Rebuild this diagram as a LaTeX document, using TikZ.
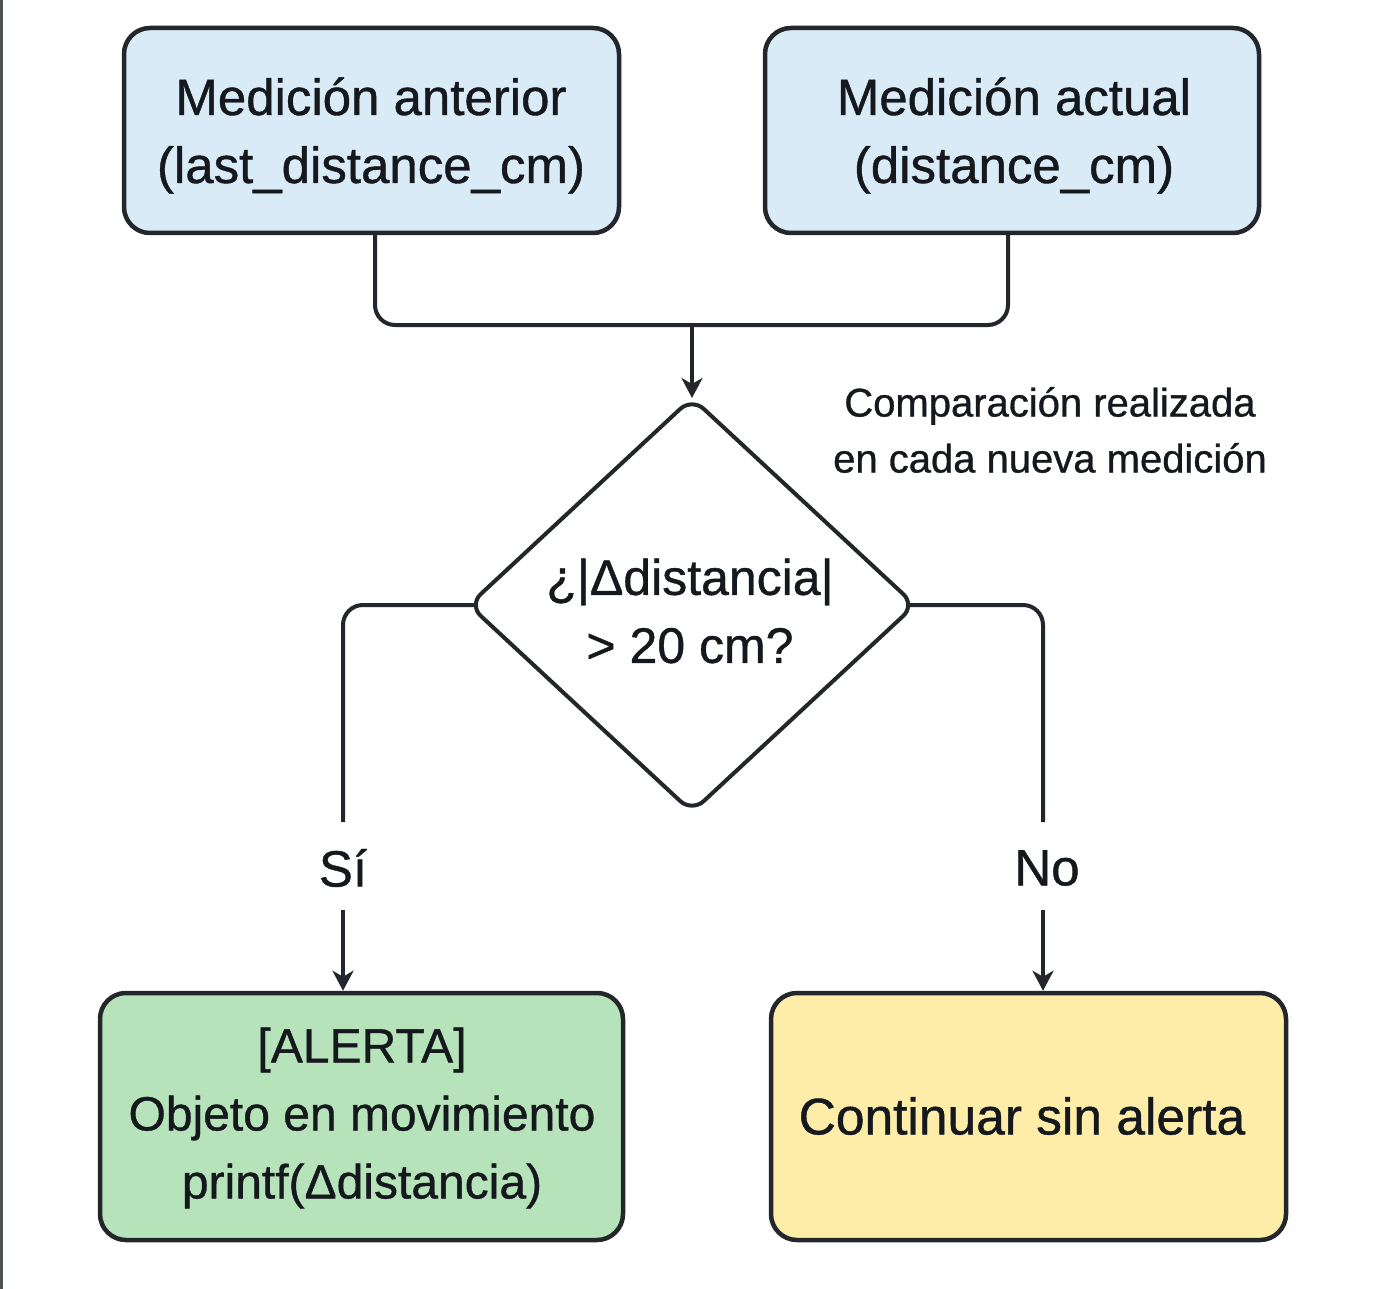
\documentclass[tikz,border=0pt]{standalone}
\usepackage{fontspec}
\setmainfont[FakeBold=0.8]{Liberation Sans}
\usetikzlibrary{arrows.meta,calc}
\definecolor{ink}{HTML}{23272B}
\definecolor{txt}{HTML}{15191D}
\definecolor{bluefill}{HTML}{DAEBF8}
\definecolor{greenfill}{HTML}{B6E3B9}
\definecolor{yellowfill}{HTML}{FDEDA8}
\begin{document}
\begin{tikzpicture}[x=1pt,y=-1pt,
  box/.style={draw=ink,line width=4.5pt,rounded corners=26pt,inner sep=0pt},
  boxtext/.style={inner sep=0pt,align=center,text=txt,font=\fontsize{#1}{68}\selectfont},
  boxtext/.default=50,
  conn/.style={draw=ink,line width=4pt,rounded corners=20pt},
  arr/.style={draw=ink,line width=4pt,-{Stealth[length=20pt,width=21pt,inset=6pt]}},
  lbl/.style={text=txt,inner sep=0pt,font=\fontsize{51}{60}\selectfont},
  note/.style={text=txt,inner sep=0pt,align=center,font=\fontsize{40}{56}\selectfont}]
\useasboundingbox (0,0) rectangle (1373,1289);
\fill[white] (0,0) rectangle (1373,1289);
\fill[ink!80] (0,0) rectangle (2.5,1289);

% top boxes
\node[box,fill=bluefill,minimum width=495pt,minimum height=205pt] (prev) at (371.5,130.5) {};
\node[boxtext=51] (prevtxt) at (371,135.5) {Medición anterior\\(last\_distance\_cm)};
\node[box,fill=bluefill,minimum width=494pt,minimum height=205pt] (curr) at (1012,130.5) {};
\node[boxtext=51] (currtxt) at (1014,135.5) {Medición actual\\(distance\_cm)};

\coordinate (prevout) at (375,233);
\coordinate (currout) at (1008,233);
\coordinate (join) at (692,325);
\draw[conn] (prevout) |- (join) -| (currout);

% decision diamond
\coordinate (dN) at (692,398);
\coordinate (dE) at (915,605);
\coordinate (dS) at (692,812);
\coordinate (dW) at (469,605);
\draw[draw=ink,fill=white,line width=4pt,rounded corners=16pt]
  ($(dN)!0.5!(dE)$) -- (dE) -- (dS) -- (dW) -- (dN) -- cycle;
\node[boxtext=50] (dec) at (690,611) {¿|Δdistancia|\\> 20 cm?};
\draw[arr] (join) -- (dN);

\node[note] (nt) at (1050,430) {Comparación realizada\\en cada nueva medición};

% bottom boxes
\node[box,fill=greenfill,minimum width=523pt,minimum height=247pt] (alert) at (361.5,1116.5) {};
\node[boxtext=48] (alerttxt) at (362,1118) {[ALERTA]\\Objeto en movimiento\\printf(Δdistancia)};
\node[box,fill=yellowfill,minimum width=515pt,minimum height=247pt] (cont) at (1028.5,1116.5) {};
\node[boxtext=51.5] (conttxt) at (1022,1116) {Continuar sin alerta};

% branches
\coordinate (siT) at (343,822);
\coordinate (siB) at (343,910);
\coordinate (noT) at (1043,822);
\coordinate (noB) at (1043,910);
\node[lbl] (si) at (343,868) {Sí};
\node[lbl] (no) at (1047,868) {No};

\draw[conn] ($(dW)+(6,0)$) -| (siT);
\draw[conn] ($(dE)-(6,0)$) -| (noT);
\draw[arr] (siB) -- (siB |- alert.north);
\draw[arr] (noB) -- (noB |- cont.north);
\end{tikzpicture}
\end{document}
